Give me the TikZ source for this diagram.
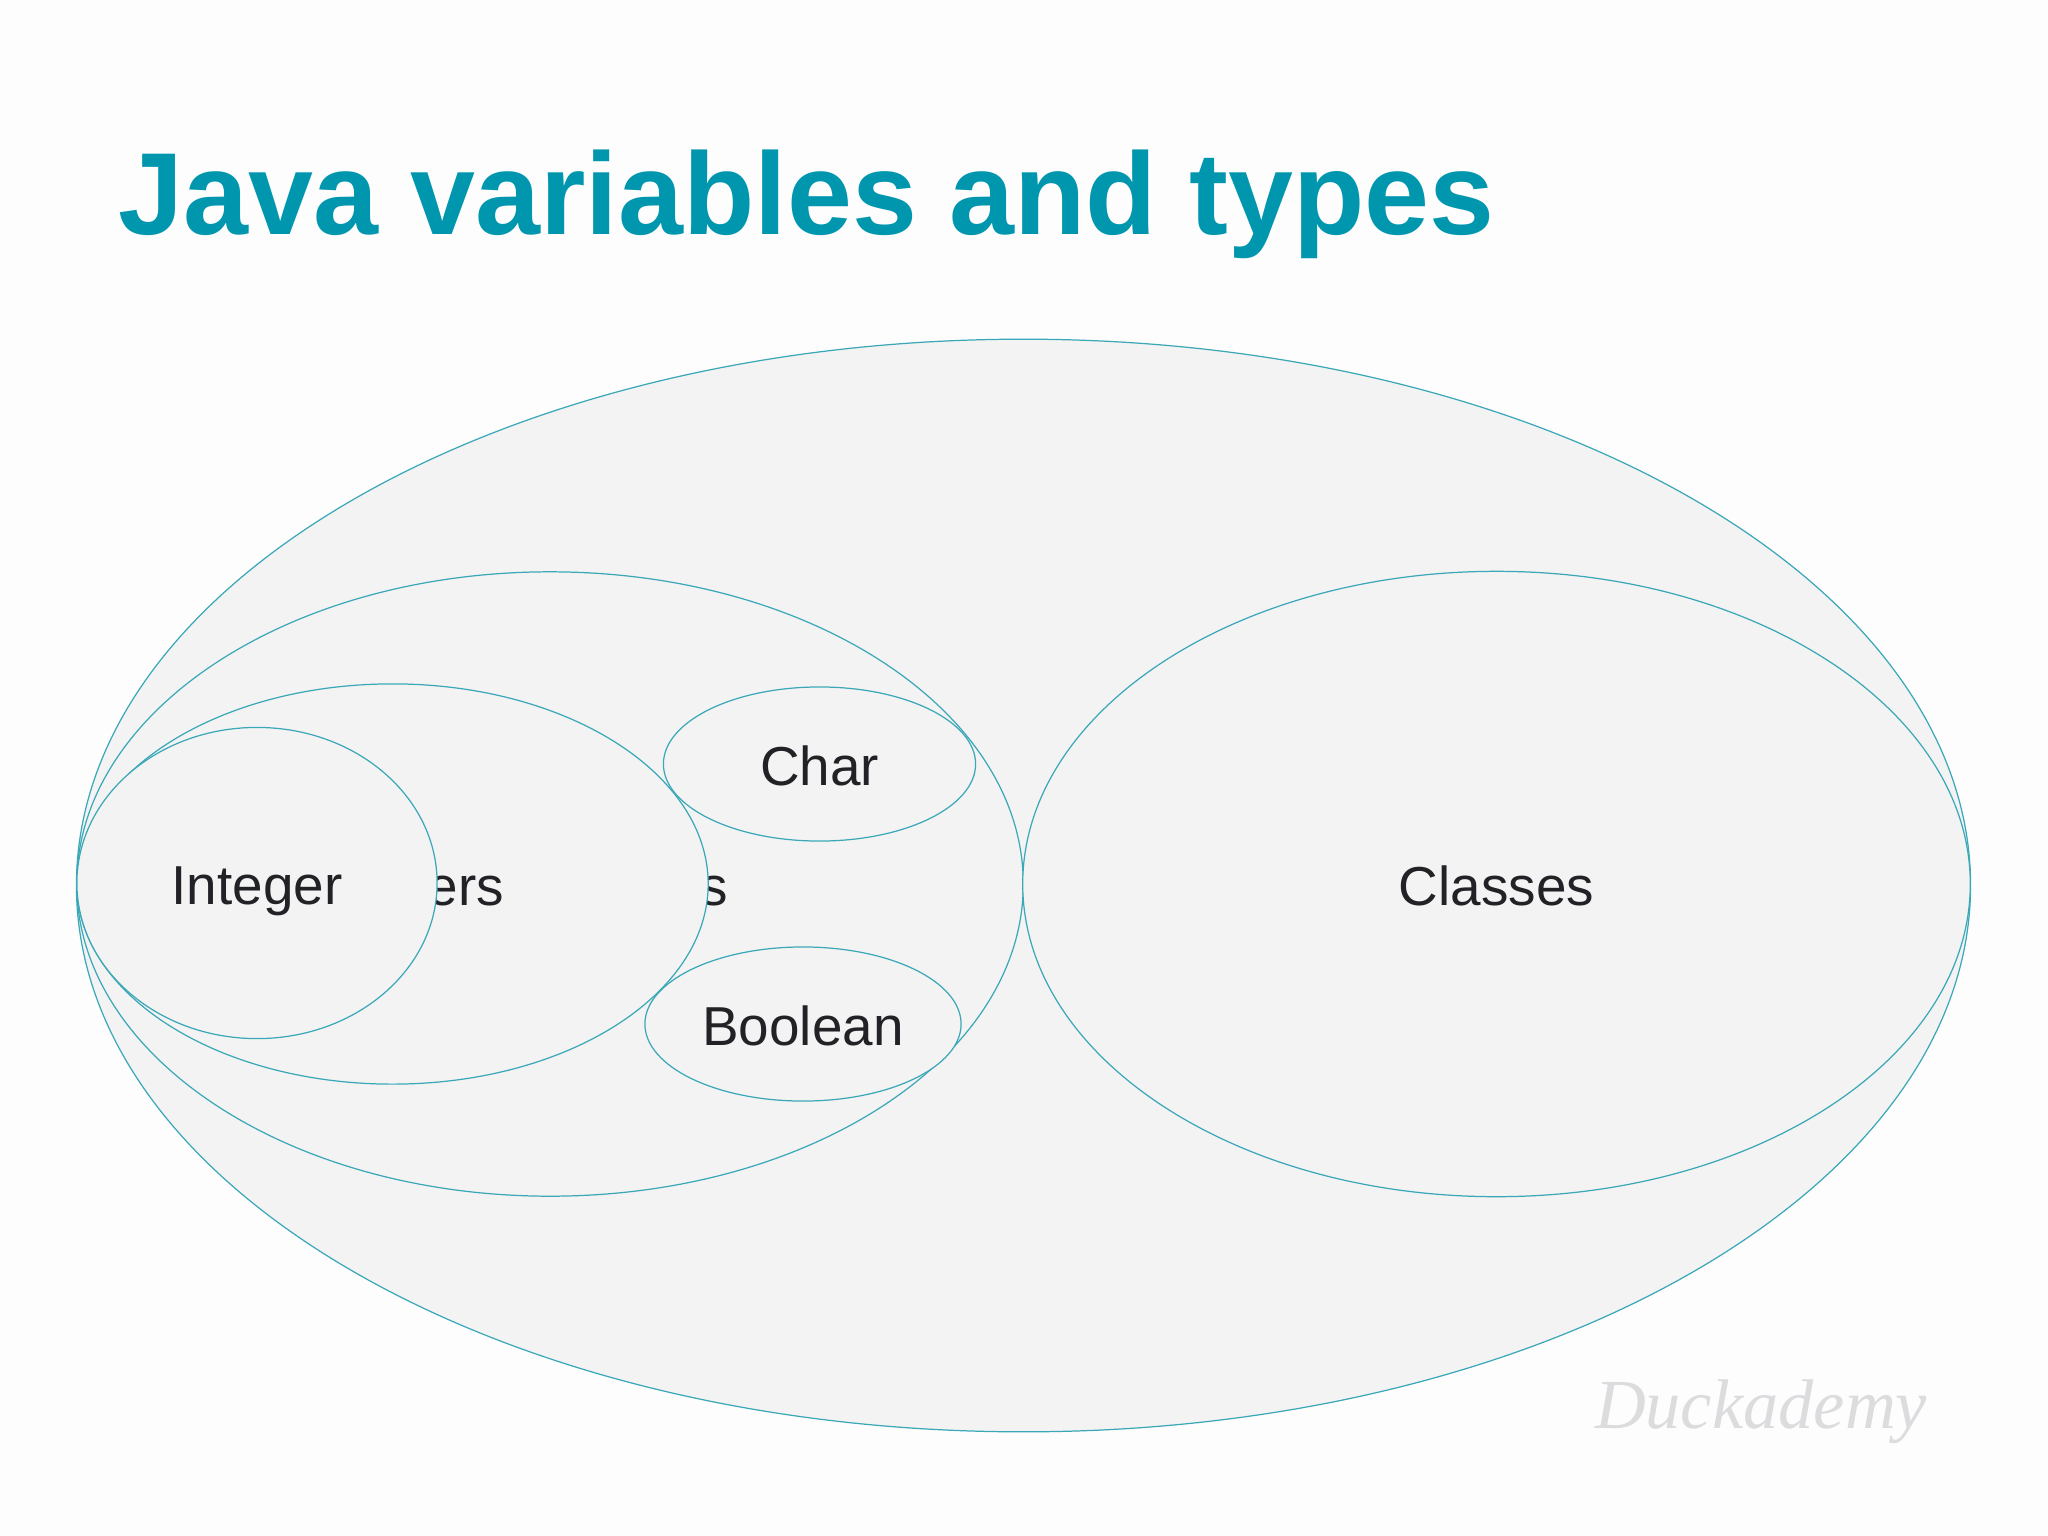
\documentclass[tikz,border=0pt]{standalone}
\usepackage{fontspec}
\setmainfont{Liberation Sans}
\newfontfamily\markfont{Liberation Serif}
\usetikzlibrary{shapes.geometric}
\definecolor{slidebg}{HTML}{FDFDFE}
\definecolor{blobfill}{HTML}{F3F3F4}
\definecolor{blobline}{HTML}{3BA8B8}
\definecolor{titleteal}{HTML}{0097AE}
\definecolor{labelink}{HTML}{222226}
\definecolor{markgrey}{HTML}{DCDCDF}
\begin{document}
\begin{tikzpicture}[x=0.01cm,y=-0.01cm,
    blob/.style={ellipse,draw=blobline,fill=blobfill,line width=0.35pt,inner sep=0pt,
        text=labelink,font=\fontsize{15.6}{18}\selectfont,text height=12.2pt,text depth=0pt},
    ]
    \useasboundingbox (0,0) rectangle (2048,1536);
    \fill[slidebg] (0,0) rectangle (2048,1536);
    \node[anchor=base west,text=titleteal,inner sep=0pt,font=\fontsize{33.2}{40}\selectfont\bfseries] (title) at (118,234) {Java variables and types};
    % back to front, so the later ones hide the earlier labels
    \node[blob,minimum width=18.93cm,minimum height=10.92cm] (types) at (1023.5,885.5) {};
    \node[blob,minimum width=9.46cm,minimum height=6.24cm] (primitive) at (550,884) {Primitive types};
    \node[blob,minimum width=9.47cm,minimum height=6.25cm] (classes) at (1496.5,884) {Classes};
    \node[blob,minimum width=3.12cm,minimum height=1.54cm] (char) at (819.5,764) {Char};
    \node[blob,minimum width=3.16cm,minimum height=1.54cm] (boolean) at (803,1024) {Boolean};
    \node[blob,minimum width=6.31cm,minimum height=4cm] (numbers) at (392.5,884) {Numbers};
    \node[blob,minimum width=3.6cm,minimum height=3.11cm] (integer) at (257,883) {Integer};
    \node[text=markgrey,inner sep=0pt,font=\markfont\itshape\fontsize{20}{24}\selectfont] (duckademy) at (1761,1412) {Duckademy};
\end{tikzpicture}
\end{document}
